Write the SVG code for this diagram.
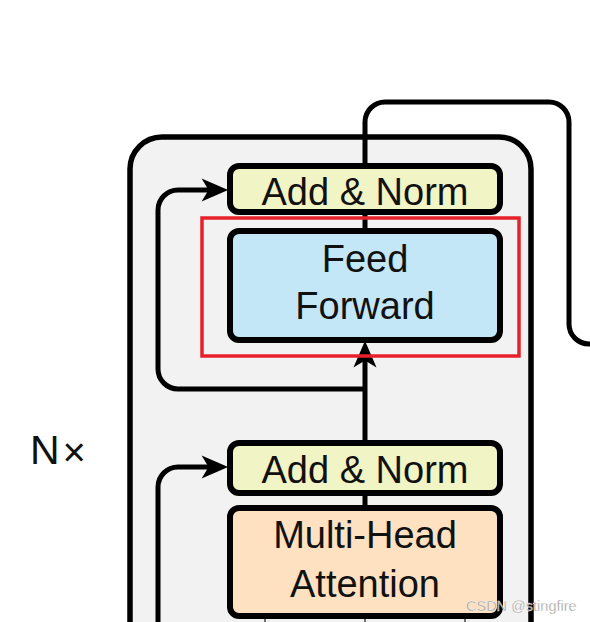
<svg xmlns="http://www.w3.org/2000/svg" width="590" height="622" viewBox="0 0 590 622">
<style>
.box{stroke:#000;stroke-width:6}
.conn{fill:none;stroke:#000;stroke-width:5}
.lbl{font-family:"Liberation Sans",Arial,sans-serif;font-size:38px;fill:#111;text-anchor:middle}
</style>
<defs>
<marker id="arr" markerUnits="userSpaceOnUse" markerWidth="30" markerHeight="30" viewBox="-10 -12 26 24" refX="0" refY="0" orient="auto">
<path d="M14,0 L-9,-10 L-3,0 L-9,10 Z" fill="#000"/>
</marker>
</defs>
<rect width="590" height="622" fill="#fff"/>
<g id="encoder-block">
<rect x="130" y="137" width="401" height="600" rx="32" fill="#f2f2f2" stroke="#000" stroke-width="5.5"/>
</g>
<g id="nx"><text x="30" y="464" font-family="Liberation Sans,Arial,sans-serif" font-size="41" fill="#111">N<tspan font-size="40" dx="3" dy="2">×</tspan></text></g>
<g id="connectors">
<path class="conn" d="M365,166 L365,122 A20,20 0 0 1 385,102 L549,102 A20,20 0 0 1 569,122 L569,324 A20,20 0 0 0 589,344 L600,344"/>
<path class="conn" d="M365,212 L365,231"/>
<path class="conn" d="M365,443 L365,357" marker-end="url(#arr)"/>
<path class="conn" d="M365,389 L178,389 A20,20 0 0 1 158,369 L158,210 A20,20 0 0 1 178,190 L212,190" marker-end="url(#arr)"/>
<path class="conn" d="M158,640 L158,487 A20,20 0 0 1 178,467 L212,467" marker-end="url(#arr)"/>
<path class="conn" d="M365,493 L365,508"/>
<path d="M265,619 L265,622 M365,619 L365,622 M465,619 L465,622" stroke="#444" stroke-width="1.5"/>
</g>
<g id="add-norm-top">
<rect class="box" x="230" y="166" width="270" height="46" rx="9" fill="#f1f4c4"/>
<text class="lbl" x="365" y="205">Add &amp; Norm</text>
</g>
<g id="feed-forward">
<rect class="box" x="230" y="231" width="270" height="109" rx="9" fill="#c3e7f6"/>
<text class="lbl" x="365" y="272">Feed</text>
<text class="lbl" x="365" y="319">Forward</text>
</g>
<g id="highlight">
<rect x="202" y="218" width="317" height="138" fill="none" stroke="#e8202a" stroke-width="3.5"/>
</g>
<g id="add-norm-bottom">
<rect class="box" x="230" y="443" width="270" height="50" rx="9" fill="#f1f4c4"/>
<text class="lbl" x="365" y="483">Add &amp; Norm</text>
</g>
<g id="multi-head-attention">
<rect class="box" x="230" y="508" width="270" height="108" rx="9" fill="#fde1c1"/>
<text class="lbl" x="365" y="548">Multi-Head</text>
<text class="lbl" x="365" y="597">Attention</text>
</g>
<g id="watermark">
<text x="466" y="611" font-family="Liberation Sans,Arial,sans-serif" font-size="14.5" fill="#9a9a9a" stroke="#fff" stroke-width="0.3">CSDN @stingfire</text>
</g>
</svg>
